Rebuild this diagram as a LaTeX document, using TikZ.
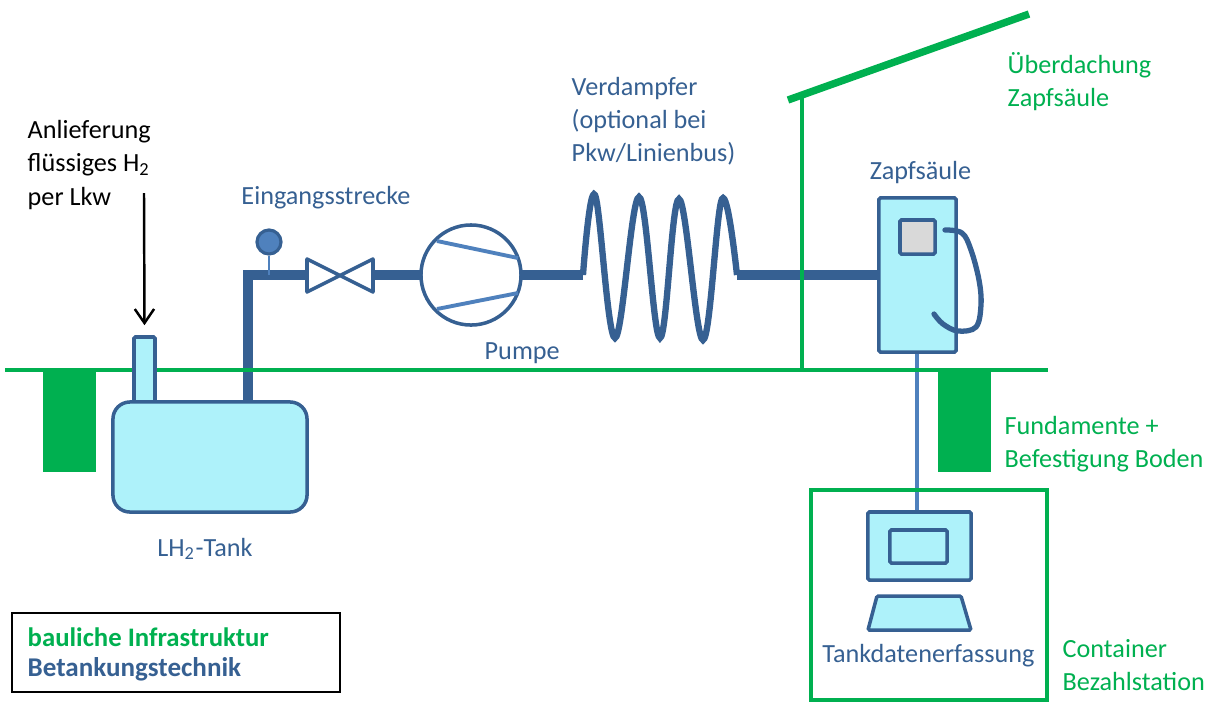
\documentclass[tikz,border=0pt]{standalone}
\usepackage{fontspec}
\setmainfont{Carlito}
\usetikzlibrary{arrows.meta,shapes.geometric}
\definecolor{techblue}{HTML}{366092}
\definecolor{lineblue}{HTML}{4F81BD}
\definecolor{baugreen}{HTML}{00B050}
\definecolor{fillcyan}{HTML}{AEF2FA}
\tikzset{
  txt/.style={inner sep=0pt,align=left,font=\fontsize{7.45}{9.4}\selectfont},
  bluetxt/.style={txt,text=techblue},
  greentxt/.style={txt,text=baugreen},
  part/.style={draw=techblue,fill=fillcyan,line width=1pt,rounded corners=0.4pt,inner sep=0pt},
  pipe/.style={draw=techblue,line width=2.8pt},
  wire/.style={draw=lineblue,line width=1.1pt},
  bau/.style={draw=baugreen,line width=1.35pt},
  found/.style={fill=baugreen,inner sep=0pt,minimum width=0.53cm,minimum height=1.02cm}
}
\begin{document}
\begin{tikzpicture}[x=0.01cm,y=-0.01cm]
\useasboundingbox (0,0) rectangle (1217,702);

% pipes
\coordinate (pipecorner) at (248,275);
\coordinate (coilin) at (583,275);
\coordinate (coilout) at (737,275);
\coordinate (tankport) at (248,402);
\coordinate (gaugefoot) at (269,275);
\coordinate (valvein) at (307,275);
\coordinate (valveout) at (373,275);
\coordinate (pumpin) at (421,275);
\coordinate (pumpout) at (521,275);
\coordinate (pillarin) at (879,275);
\draw[pipe] (tankport) -- (pipecorner) -- (valvein);
\draw[pipe] (valveout) -- (pumpin);
\draw[pipe] (pumpout) -- (coilin);
\draw[pipe] (coilout) -- (pillarin);
\draw[draw=techblue,line width=1.8pt] (coilin) -- plot[smooth,tension=0.62] coordinates {(583,275) (595,195) (615,338) (639,197) (660,338) (679,199) (703,340) (722,199) (737,275)};

% gauge
\node[circle,draw=techblue,fill=lineblue,line width=0.9pt,minimum size=0.24cm,inner sep=0pt] (gauge) at (269,242) {};
\draw[wire,line width=0.6pt] (gauge) -- (gaugefoot);

% valve
\draw[draw=techblue,fill=white,line width=1pt,line join=round] (307,259) -- (373,292) -- (373,259) -- (307,292) -- cycle;

% pump
\node[circle,draw=techblue,fill=white,line width=1pt,minimum size=1.0cm,inner sep=0pt] (pump) at (471,275) {};
\draw[wire] (437,241) -- (518,258);
\draw[wire] (437,309) -- (518,293);

% ground and roof
\node[found] (footleft) at (69.5,421) {};
\node[found] (footright) at (964.5,421) {};
\coordinate (groundleft) at (5,370);
\coordinate (groundright) at (1048,370);
\coordinate (postfoot) at (802,370);
\coordinate (posttop) at (802,98);
\coordinate (roofleft) at (788,100);
\coordinate (roofright) at (1029,14);
\draw[wire] (917,352) -- (917,512);
\draw[bau] (groundleft) -- (groundright);
\draw[bau] (postfoot) -- (posttop);
\draw[bau,line width=2.1pt] (roofleft) -- (roofright);

% tank
\node[part,minimum width=0.21cm,minimum height=0.66cm] (neck) at (144.5,370) {};
\node[part,rounded corners=0.17cm,minimum width=1.94cm,minimum height=1.10cm] (tank) at (210,457) {};
\coordinate (deliverytop) at (144,193);
\draw[-{Straight Barb[length=4pt,width=5.5pt]},line width=0.7pt] (deliverytop) -- ([yshift=0.1cm]neck.north);

% pillar
\node[part,minimum width=0.77cm,minimum height=1.54cm] (pillar) at (917.5,275) {};
\node[part,fill=black!15,minimum width=0.35cm,minimum height=0.34cm] (pillarscreen) at (917.5,237) {};
\draw[draw=techblue,line width=1.5pt,line cap=round] plot[smooth,tension=0.6] coordinates {(945,230) (962,233) (971,250) (979,280) (981,305) (976,327) (958,331) (943,324) (934,314)};

% container
\draw[bau,line width=1.4pt] (811,490) rectangle (1047,700);
\node[part,minimum width=1.03cm,minimum height=0.68cm] (monitor) at (919.5,546) {};
\node[part,minimum width=0.57cm,minimum height=0.33cm] (monitorinner) at (918.5,546.5) {};
\draw[part] (877,596) -- (961,596) -- (971,630) -- (868,630) -- cycle;

% labels
\node[txt,anchor=west] (delivery) at (27,165) {Anlieferung\\flüssiges H\textsubscript{2}\\per Lkw};
\node[bluetxt,anchor=center] (inlet) at (326,198) {Eingangsstrecke};
\node[bluetxt,anchor=west] (pumplabel) at (484,353) {Pumpe};
\node[bluetxt,anchor=west] (coillabel) at (571,121) {Verdampfer\\(optional bei\\Pkw/Linienbus)};
\node[bluetxt,anchor=center] (pillarlabel) at (920.5,173) {Zapfsäule};
\node[bluetxt,anchor=center] (tanklabel) at (205,549) {LH\textsubscript{2}-Tank};
\node[bluetxt,anchor=center] (datalabel) at (928.5,656) {Tankdatenerfassung};
\node[greentxt,anchor=west] (rooflabel) at (1007,82) {Überdachung\\Zapfsäule};
\node[greentxt,anchor=west] (footlabel) at (1004,444) {Fundamente +\\Befestigung Boden};
\node[greentxt,anchor=west] (containerlabel) at (1062,665) {Container\\Bezahlstation};

% legend
\node[draw=black,line width=0.45pt,minimum width=3.28cm,minimum height=0.79cm,inner sep=0pt] (legend) at (176,652.5) {};
\node[greentxt,anchor=west,font=\fontsize{7.6}{9.4}\selectfont\bfseries] (legendbau) at (27,637) {bauliche Infrastruktur};
\node[bluetxt,anchor=west,font=\fontsize{7.7}{9.4}\selectfont\bfseries] (legendtech) at (27,669) {Betankungstechnik};
\end{tikzpicture}
\end{document}
